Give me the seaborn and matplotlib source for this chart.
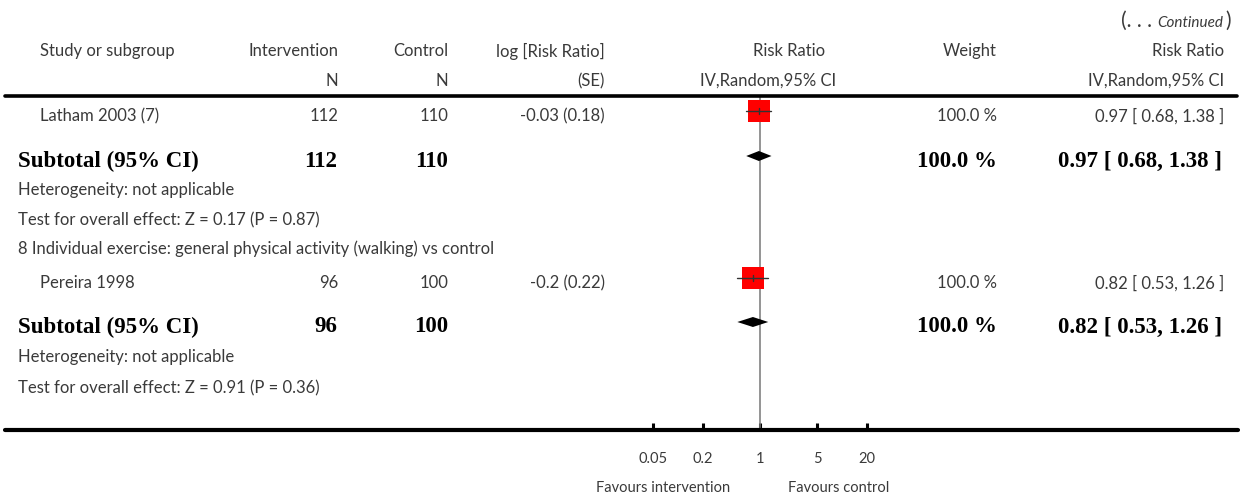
import matplotlib
matplotlib.use("Agg")
import matplotlib.pyplot as plt
import seaborn as sns
import numpy as np
import pandas as pd
from matplotlib.lines import Line2D

sns.set_theme(style="white")
plt.rcParams['font.family'] = ['Lato', 'DejaVu Sans']

# ---------------- data ----------------
studies = ["Latham 2003 (7)", "Pereira 1998"]
int_n = [112, 96]
ctl_n = [110, 100]
log_rr = [-0.03, -0.2]
log_se = [0.18, 0.22]
weights = [100.0, 100.0]
rr = [0.97, 0.82]
rr_lo = [0.68, 0.53]
rr_hi = [1.38, 1.26]

sub_int_n = [112, 96]
sub_ctl_n = [110, 100]
sub_weight = [100.0, 100.0]
sub_rr = [0.97, 0.82]
sub_lo = [0.68, 0.53]
sub_hi = [1.38, 1.26]
het_text = ["Heterogeneity: not applicable", "Heterogeneity: not applicable"]
z_vals = [0.17, 0.91]
p_vals = [0.87, 0.36]
subgroup_titles = [None, "8 Individual exercise: general physical activity (walking) vs control"]

tick_vals = [0.05, 0.2, 1, 5, 20]
tick_labels = ["0.05", "0.2", "1", "5", "20"]

# ---------------- layout ----------------
W, H = 1248, 500
fig = plt.figure(figsize=(W / 100, H / 100), dpi=100)

def fx(x):
    return x / W

def fy(y):
    return 1 - y / H

TXT = "#3a3a3a"
RS = 12      # regular size
BS = 16.5    # bold serif size
SERIF = ['Liberation Serif', 'DejaVu Serif']

def t(x, y, s, ha="left", size=RS, bold=False, color=TXT, **kw):
    if bold:
        return fig.text(fx(x), fy(y), s, ha=ha, va="center", fontsize=BS,
                        family=SERIF, fontweight="bold", color="black", **kw)
    return fig.text(fx(x), fy(y), s, ha=ha, va="center", fontsize=size,
                    color=color, **kw)

# column right edges
X_NAME, X_SUB = 40, 18
X_INT, X_CTL, X_LOG = 338, 448, 605
X_WT, X_RR = 997, 1224

# header: "(. . . Continued)"
t(1231, 21, ")", ha="right", size=15)
t(1223, 23, "Continued", ha="right", size=11, style="italic")
t(1152, 21, "(. . .", ha="right", size=15)

Y_H1, Y_H2 = 51, 81
t(X_NAME, Y_H1, "Study or subgroup")
t(X_INT, Y_H1, "Intervention", ha="right")
t(X_INT, Y_H2, "N", ha="right")
t(X_CTL, Y_H1, "Control", ha="right")
t(X_CTL, Y_H2, "N", ha="right")
t(X_LOG, Y_H1, "log [Risk Ratio]", ha="right")
t(X_LOG, Y_H2, "(SE)", ha="right")
t(789, Y_H1, "Risk Ratio", ha="center")
t(768, Y_H2, "IV,Random,95% CI", ha="center")
t(X_WT, Y_H1, "Weight", ha="right")
t(X_RR, Y_H1, "Risk Ratio", ha="right")
t(X_RR, Y_H2, "IV,Random,95% CI", ha="right")

# horizontal rules
fig.add_artist(Line2D([fx(5), fx(1237)], [fy(96), fy(96)], color="black", lw=2.6))
fig.add_artist(Line2D([fx(5), fx(1238)], [fy(430), fy(430)], color="black", lw=3.0))

# row positions (pixels) for marks; text sits slightly lower
row_title = [None, 249]
row_study = [111, 278]
row_sub = [156, 322]
row_het = [190, 357]
row_test = [220, 388]
TOFF = 5

for i in range(2):
    if subgroup_titles[i] is not None:
        t(X_SUB, row_title[i], subgroup_titles[i])
    y = row_study[i] + TOFF
    t(X_NAME, y, studies[i])
    t(X_INT, y, str(int_n[i]), ha="right")
    t(X_CTL, y, str(ctl_n[i]), ha="right")
    t(X_LOG, y, f"{log_rr[i]:g} ({log_se[i]:.2f})", ha="right")
    t(X_WT, y, f"{weights[i]:.1f} %", ha="right")
    t(X_RR, y, f"{rr[i]:.2f} [ {rr_lo[i]:.2f}, {rr_hi[i]:.2f} ]", ha="right")

    y = row_sub[i] + TOFF
    t(X_SUB, y, "Subtotal (95% CI)", bold=True)
    t(X_INT - 1, y, str(sub_int_n[i]), ha="right", bold=True)
    t(X_CTL, y, str(sub_ctl_n[i]), ha="right", bold=True)
    t(X_WT, y, f"{sub_weight[i]:.1f} %", ha="right", bold=True)
    t(X_RR - 2, y, f"{sub_rr[i]:.2f} [ {sub_lo[i]:.2f}, {sub_hi[i]:.2f} ]", ha="right", bold=True)

    t(X_SUB, row_het[i], het_text[i])
    t(X_SUB, row_test[i], f"Test for overall effect: Z = {z_vals[i]:.2f} (P = {p_vals[i]:.2f})")

# ---------------- forest axes ----------------
# log scale: 0.01..100 spans 4 decades across ~329 px centred on x=760
ax_left, ax_right = 760 - 2 * 82.2, 760 + 2 * 82.2
ax = fig.add_axes([fx(ax_left), fy(430), fx(ax_right - ax_left), (430 - 96) / H])
ax.set_xscale("log")
ax.set_xlim(0.01, 100)
ax.set_ylim(430, 96)
ax.patch.set_visible(False)
for s in ax.spines.values():
    s.set_visible(False)

ax.axvline(1, color="#777777", lw=1.1, zorder=1)

df = pd.DataFrame({"rr": rr, "lo": rr_lo, "hi": rr_hi, "y": row_study})
sns.scatterplot(data=df, x="rr", y="y", marker="s", s=250, color="#ff0000",
                edgecolor="none", linewidth=0, ax=ax, zorder=2, legend=False)
for _, r in df.iterrows():
    ax.plot([r.lo, r.hi], [r.y, r.y], color="#333333", lw=1.0, zorder=3)
    ax.plot([r.rr, r.rr], [r.y - 3, r.y + 3], color="#333333", lw=1.0, zorder=3)

for i in range(2):
    y = row_sub[i]
    ax.fill([sub_lo[i], sub_rr[i], sub_hi[i], sub_rr[i]],
            [y, y - 5, y, y + 5], color="black", lw=0, zorder=3)

ax.set_xticks(tick_vals)
ax.set_xticklabels(tick_labels)
ax.xaxis.set_minor_locator(matplotlib.ticker.NullLocator())
ax.tick_params(axis="x", direction="in", length=5, width=2.2, color="black",
               labelsize=10.5, labelcolor=TXT, pad=16, bottom=True)
ax.set_yticks([])
ax.set_xlabel("")
ax.set_ylabel("")

t(730, 488, "Favours intervention", ha="right", size=10.5)
t(788, 488, "Favours control", ha="left", size=10.5)

fig.savefig("out.png", dpi=100)
